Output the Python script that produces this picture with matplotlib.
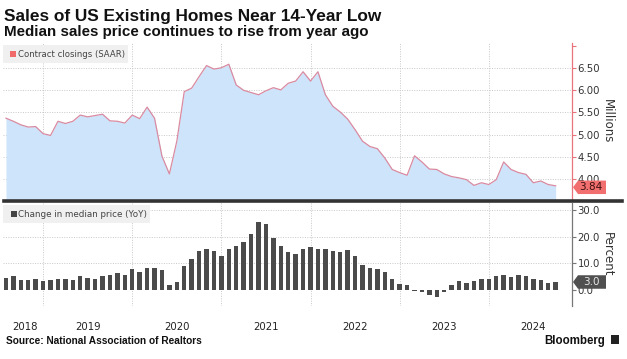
import matplotlib
matplotlib.use("Agg")
import matplotlib.pyplot as plt
import numpy as np
from matplotlib.patches import Rectangle, Polygon
from matplotlib.lines import Line2D

# ---------------- data ----------------
# monthly, Jul 2018 .. Sep 2024
sales = [5.37, 5.30, 5.22, 5.17, 5.18, 5.02, 4.98, 5.30, 5.25, 5.30, 5.44, 5.40,
         5.43, 5.46, 5.31, 5.30, 5.26, 5.44, 5.36, 5.62, 5.37, 4.51, 4.11, 4.85,
         5.97, 6.05, 6.31, 6.56, 6.48, 6.51, 6.59, 6.12, 6.00, 5.95, 5.90, 5.99,
         6.06, 6.01, 6.16, 6.21, 6.42, 6.21, 6.42, 5.90, 5.64, 5.51, 5.35, 5.11,
         4.85, 4.73, 4.68, 4.47, 4.21, 4.14, 4.08, 4.52, 4.38, 4.22, 4.21, 4.11,
         4.05, 4.02, 3.98, 3.85, 3.91, 3.87, 3.98, 4.38, 4.21, 4.14, 4.10, 3.91,
         3.95, 3.87, 3.84]
price_chg = [4.6, 5.3, 3.9, 3.9, 4.3, 3.5, 3.9, 4.1, 4.3, 3.6, 5.3, 4.5,
             4.3, 5.2, 5.8, 6.5, 5.6, 7.9, 6.9, 8.3, 8.3, 7.5, 1.9, 3.1,
             9.1, 11.6, 14.7, 15.5, 14.7, 12.6, 15.5, 16.6, 17.9, 20.8, 25.3, 24.8,
             19.5, 16.6, 14.1, 13.6, 15.3, 16.2, 15.3, 15.3, 14.7, 14.3, 15.1, 12.8,
             9.4, 8.3, 7.9, 6.7, 4.0, 2.3, 1.9, -0.2, -0.9, -1.9, -2.7, -0.6,
             1.9, 3.4, 2.6, 3.5, 4.1, 4.1, 5.1, 5.6, 4.9, 5.6, 5.4, 4.1,
             3.8, 2.6, 3.0]
year_labels = ["2018", "2019", "2020", "2021", "2022", "2023", "2024"]
year_label_pos = [2.6, 11, 23, 35, 47, 59, 71]   # month index of label centre
year_starts = [5, 17, 29, 41, 53, 65]             # month index of Jan 1 grid lines
top_ticks = [4.0, 4.5, 5.0, 5.5, 6.0, 6.5]
bot_ticks = [0, 10, 20, 30]

title = "Sales of US Existing Homes Near 14-Year Low"
subtitle = "Median sales price continues to rise from year ago"
source = "Source: National Association of Realtors"
legend_top = "Contract closings (SAAR)"
legend_bot = "Change in median price (YoY)"

x = np.arange(len(sales))

# ---------------- figure ----------------
W, H = 627, 359
fig = plt.figure(figsize=(W / 100, H / 100), dpi=100)
fig.patch.set_facecolor("white")

def fx(px):
    return px / W

def fy(py):
    return 1 - py / H

RED = "#e8737b"
FILL = "#cde4fa"
LINE = "#d98aa0"
BAR = "#4b4b4b"
GRID = "#c8c8c8"
TXT = "#333333"

XL = (-0.4, 76.2)
ax1 = fig.add_axes([fx(3), fy(200), fx(569), 157 / H])
ax2 = fig.add_axes([fx(3), fy(306), fx(569), 103 / H])

# top panel
y0 = 3.52
ax1.fill_between(x, y0, sales, color=FILL, lw=0, zorder=2)
ax1.plot(x, sales, color=LINE, lw=0.9, zorder=3)
ax1.set_xlim(*XL)
ax1.set_ylim(y0, 7.07)
ax1.yaxis.tick_right()
ax1.set_yticks(top_ticks + [7.0])
ax1.set_yticklabels([f"{v:.2f}" for v in top_ticks] + [""])
ax1.tick_params(axis="y", colors=RED, labelcolor=TXT, labelsize=7.3, length=3,
                width=0.8, pad=1)
ax1.set_xticks([])
for s in ["left", "top", "bottom"]:
    ax1.spines[s].set_visible(False)
ax1.spines["right"].set_color(RED)
ax1.spines["right"].set_linewidth(0.9)
for v in top_ticks:
    ax1.axhline(v, color=GRID, lw=0.7, ls=(0, (1, 1.5)), zorder=1)
for v in year_starts:
    ax1.axvline(v, color=GRID, lw=0.7, ls=(0, (1, 1.5)), zorder=1)
ax1.set_ylabel("Millions", rotation=270, fontsize=8.5, color=TXT, labelpad=10)
ax1.yaxis.set_label_position("right")

# bottom panel
ax2.bar(x, price_chg, width=0.6, color=BAR, zorder=3)
ax2.set_xlim(*XL)
ax2.set_ylim(-6, 32.6)
ax2.yaxis.tick_right()
ax2.set_yticks(bot_ticks)
ax2.set_yticklabels([f"{v:.1f}" for v in bot_ticks])
ax2.tick_params(axis="y", colors="#777777", labelcolor=TXT, labelsize=7.3, length=3,
                width=0.8, pad=1)
ax2.set_xticks([])
for s in ["left", "top", "bottom"]:
    ax2.spines[s].set_visible(False)
ax2.spines["right"].set_color("#777777")
ax2.spines["right"].set_linewidth(0.9)
for v in bot_ticks[1:]:
    ax2.axhline(v, color=GRID, lw=0.7, ls=(0, (1, 1.5)), zorder=1)
for v in year_starts:
    ax2.axvline(v, color=GRID, lw=0.7, ls=(0, (1, 1.5)), zorder=1)
ax2.set_ylabel("Percent", rotation=270, fontsize=8.5, color=TXT, labelpad=10)
ax2.yaxis.set_label_position("right")

# year labels
for lab, p in zip(year_labels, year_label_pos):
    ax2.text(p, fy(327), lab, transform=ax2.get_xaxis_transform().__class__(ax2.transData, fig.transFigure),
             ha="center", va="center", fontsize=7.3, color="#222222")

# separator line
fig.add_artist(Line2D([fx(4), fx(622)], [fy(201), fy(201)], color="#333333", lw=2.6))

# legend boxes
fig.add_artist(Rectangle((fx(3), fy(63)), fx(125), 18 / H, transform=fig.transFigure,
                         facecolor="#f0f0f0", edgecolor="none", zorder=5))
fig.add_artist(Rectangle((fx(10), fy(57)), fx(6), 6 / H, transform=fig.transFigure,
                         facecolor="#f06a6a", edgecolor="none", zorder=6))
t_l1 = fig.text(fx(17.5), fy(57.3), legend_top, fontsize=7, color="#444444",
                va="baseline", ha="left", zorder=7)
fig.add_artist(Rectangle((fx(3), fy(223)), fx(147), 18 / H, transform=fig.transFigure,
                         facecolor="#f0f0f0", edgecolor="none", zorder=5))
fig.add_artist(Rectangle((fx(11), fy(216.5)), fx(5.5), 5.5 / H, transform=fig.transFigure,
                         facecolor="#444444", edgecolor="none", zorder=6))
t_l2 = fig.text(fx(17.5), fy(217.5), legend_bot, fontsize=7, color="#444444",
                va="baseline", ha="left", zorder=7)

# last value tags
def tag(ycen, txt, fc, tc, x0=573, x1=606, h=13.5):
    pts = [(fx(x0), fy(ycen)), (fx(x0 + 5), fy(ycen - h / 2)), (fx(x1), fy(ycen - h / 2)),
           (fx(x1), fy(ycen + h / 2)), (fx(x0 + 5), fy(ycen + h / 2))]
    fig.add_artist(Polygon(pts, closed=True, transform=fig.transFigure, facecolor=fc,
                           edgecolor="none", zorder=8))
    fig.text(fx((x0 + 3 + x1) / 2), fy(ycen), txt, fontsize=7.5, color=tc,
             ha="center", va="center", zorder=9)

tag(187.3, f"{sales[-1]:.2f}", "#f26f6f", "#3a1010")
tag(282, f"{price_chg[-1]:.1f}", "#505050", "#e8e8e8")

# titles
t_title = fig.text(fx(4), fy(21), title, fontsize=13, fontweight="bold",
                   family="Liberation Sans", color="#111111", va="baseline")
t_sub = fig.text(fx(4), fy(36), subtitle, fontsize=9.5, fontweight="bold",
                 family="Liberation Sans", color="#111111", va="baseline")
t_src = fig.text(fx(6), fy(344), source, fontsize=6.5, fontweight="bold",
                 family="Liberation Sans", color="#111111", va="baseline")
t_bb = fig.text(fx(544), fy(344), "Bloomberg", fontsize=8.5, fontweight="bold",
                family="Liberation Sans", color="#111111", va="baseline")
fig.add_artist(Rectangle((fx(611), fy(344)), fx(8), 9 / H, transform=fig.transFigure,
                         facecolor="#222222", edgecolor="none"))

# fit text widths to reference
r = fig.canvas.get_renderer()
def fit(t, w):
    cw = t.get_window_extent(r).width
    t.set_fontsize(t.get_fontsize() * w / cw)

fit(t_title, 376)
fit(t_sub, 364)
fit(t_src, 197)
fit(t_bb, 61)
fit(t_l1, 107)
fit(t_l2, 130)

fig.savefig("out.png", dpi=100, facecolor="white")
